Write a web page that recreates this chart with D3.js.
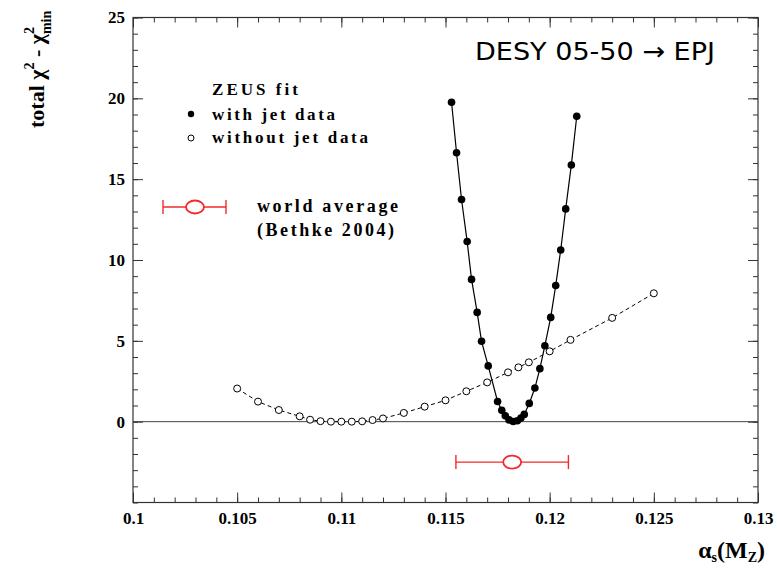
<!DOCTYPE html>
<html>
<head>
<meta charset="utf-8">
<script src="https://cdn.jsdelivr.net/npm/d3@7"></script>
<style>
  html, body { margin: 0; padding: 0; background: #fff; }
  svg { display: block; }
  .tick text { font-family: "Liberation Serif", "Times New Roman", serif; font-weight: bold; font-size: 17px; fill: #000; }
  .tick line { stroke: #333; stroke-width: 1; }
  .serif { font-family: "Liberation Serif", "Times New Roman", serif; font-weight: bold; fill: #000; }
</style>
</head>
<body>
<div id="chart"></div>
<script>
// ZEUS fit: total chi2 - chi2_min versus alpha_s(M_Z)

// with jet data (filled dots, solid line)
const withJetX = [0.11529, 0.11553, 0.11577, 0.11604, 0.11625, 0.11652, 0.11673, 0.11705,
  0.11750, 0.11770, 0.11787, 0.11805, 0.11825, 0.11845, 0.11862, 0.11878, 0.11902,
  0.11929, 0.11953, 0.11977, 0.12005, 0.12029, 0.12053, 0.12077, 0.12104, 0.12130];
const withJetY = [19.76, 16.63, 13.74, 11.14, 8.80, 6.76, 4.97, 3.45,
  1.25, 0.70, 0.36, 0.11, 0.01, 0.06, 0.22, 0.45, 1.13,
  2.08, 3.28, 4.70, 6.45, 8.42, 10.62, 13.16, 15.88, 18.89];

// without jet data (open circles, dashed line)
const noJetX = [0.105, 0.106, 0.107, 0.108, 0.1085, 0.109, 0.1095, 0.110, 0.1105, 0.111,
  0.1115, 0.112, 0.113, 0.114, 0.115, 0.116, 0.117, 0.118, 0.1185, 0.119, 0.120, 0.121, 0.123, 0.125];
const noJetY = [2.05, 1.24, 0.72, 0.33, 0.12, 0.03, 0.0, 0.0, 0.0, 0.02,
  0.10, 0.20, 0.54, 0.93, 1.32, 1.88, 2.43, 3.05, 3.36, 3.67, 4.35, 5.06, 6.42, 7.94];

// world average (Bethke 2004)
const worldAvg = { value: 0.1182, err: 0.0027, y: -2.5 };

// axes
const xTicks = [0.1, 0.105, 0.11, 0.115, 0.12, 0.125, 0.13];
const xTickLabels = ["0.1", "0.105", "0.11", "0.115", "0.12", "0.125", "0.13"];
const xMinor = d3.range(0, 31).map((i) => 0.1 + i * 0.001);
const yTicks = [0, 5, 10, 15, 20, 25];
const yTickLabels = ["0", "5", "10", "15", "20", "25"];
const yMinor = d3.range(-5, 26);

const W = 778, H = 568;
const frame = { left: 133, right: 758, top: 17.5, bottom: 502.5 };
const RED = "#f32a2a";

const svg = d3.select("#chart").append("svg").attr("width", W).attr("height", H);

const x = d3.scaleLinear().domain([0.1, 0.13]).range([frame.left, frame.right]);
const y = d3.scaleLinear().domain([-5, 25]).range([frame.bottom, frame.top]);

// Minor ticks on all four sides (inward)
function minor(axis, pos, vals, size) {
  svg.append("g").attr("transform", pos)
    .call(axis.tickValues(vals).tickSize(size).tickSizeOuter(0).tickFormat(""))
    .call((g) => g.select(".domain").remove());
}
minor(d3.axisBottom(x), `translate(0,${frame.bottom})`, xMinor, -5);
minor(d3.axisTop(x), `translate(0,${frame.top})`, xMinor, -5);
minor(d3.axisLeft(y), `translate(${frame.left},0)`, yMinor, -5);
minor(d3.axisRight(y), `translate(${frame.right},0)`, yMinor, -5);
minor(d3.axisTop(x), `translate(0,${frame.top})`, xTicks, -10);
minor(d3.axisRight(y), `translate(${frame.right},0)`, yTicks, -10);

// Major ticks with labels
svg.append("g").attr("transform", `translate(0,${frame.bottom})`)
  .call(d3.axisBottom(x).tickValues(xTicks).tickSize(-10).tickSizeOuter(0)
    .tickPadding(9).tickFormat((d, i) => xTickLabels[i]))
  .call((g) => g.select(".domain").remove());

svg.append("g").attr("transform", `translate(${frame.left},0)`)
  .call(d3.axisLeft(y).tickValues(yTicks).tickSize(-10).tickSizeOuter(0)
    .tickPadding(8).tickFormat((d, i) => yTickLabels[i]))
  .call((g) => g.select(".domain").remove());

// Frame
svg.append("rect")
  .attr("x", frame.left).attr("y", frame.top)
  .attr("width", frame.right - frame.left).attr("height", frame.bottom - frame.top)
  .attr("fill", "none").attr("stroke", "#333").attr("stroke-width", 1.2);

// Zero line
svg.append("line")
  .attr("x1", frame.left).attr("x2", frame.right)
  .attr("y1", y(0)).attr("y2", y(0))
  .attr("stroke", "#444").attr("stroke-width", 1);

const line = d3.line().x((d) => x(d[0])).y((d) => y(d[1]));
const noJet = noJetX.map((v, i) => [v, noJetY[i]]);
const withJet = withJetX.map((v, i) => [v, withJetY[i]]);

// without jet data
svg.append("path").datum(noJet).attr("d", line)
  .attr("fill", "none").attr("stroke", "#000").attr("stroke-width", 1)
  .attr("stroke-dasharray", "4,3");
svg.append("g").selectAll("circle").data(noJet).join("circle")
  .attr("cx", (d) => x(d[0])).attr("cy", (d) => y(d[1])).attr("r", 3.5)
  .attr("fill", "#fff").attr("stroke", "#000").attr("stroke-width", 1);

// with jet data
svg.append("path").datum(withJet).attr("d", line)
  .attr("fill", "none").attr("stroke", "#000").attr("stroke-width", 1.2);
svg.append("g").selectAll("circle").data(withJet).join("circle")
  .attr("cx", (d) => x(d[0])).attr("cy", (d) => y(d[1])).attr("r", 3.8)
  .attr("fill", "#000");

// World average marker with horizontal error bar
function avgMarker(g, cx, x0, x1, cy) {
  g.append("line").attr("x1", x0).attr("x2", x1).attr("y1", cy).attr("y2", cy)
    .attr("stroke", RED).attr("stroke-width", 1.4);
  [x0, x1].forEach((xx) => g.append("line").attr("x1", xx).attr("x2", xx)
    .attr("y1", cy - 7).attr("y2", cy + 7).attr("stroke", RED).attr("stroke-width", 1.4));
  g.append("ellipse").attr("cx", cx).attr("cy", cy).attr("rx", 9).attr("ry", 6.5)
    .attr("fill", "#fff").attr("stroke", RED).attr("stroke-width", 1.8);
}
avgMarker(svg.append("g"), x(worldAvg.value), x(worldAvg.value - worldAvg.err),
  x(worldAvg.value + worldAvg.err), y(worldAvg.y));

// Legend
const leg = svg.append("g");
leg.append("text").attr("class", "serif").attr("x", 212).attr("y", 95)
  .attr("font-size", 17).attr("textLength", 86).attr("lengthAdjust", "spacing").text("ZEUS fit");
leg.append("circle").attr("cx", 191).attr("cy", 114).attr("r", 3.2).attr("fill", "#000");
leg.append("text").attr("class", "serif").attr("x", 212).attr("y", 120)
  .attr("font-size", 17).attr("textLength", 123).attr("lengthAdjust", "spacing").text("with jet data");
leg.append("circle").attr("cx", 191).attr("cy", 138).attr("r", 3).attr("fill", "#fff")
  .attr("stroke", "#000").attr("stroke-width", 1);
leg.append("text").attr("class", "serif").attr("x", 212).attr("y", 143)
  .attr("font-size", 17).attr("textLength", 156).attr("lengthAdjust", "spacing").text("without jet data");
avgMarker(leg, 195, 163, 226, 207);
leg.append("text").attr("class", "serif").attr("x", 257).attr("y", 212)
  .attr("font-size", 18).attr("textLength", 141).attr("lengthAdjust", "spacing").text("world average");
leg.append("text").attr("class", "serif").attr("x", 257).attr("y", 236)
  .attr("font-size", 18).attr("textLength", 137).attr("lengthAdjust", "spacing").text("(Bethke 2004)");

// Title
svg.append("text").attr("x", 475).attr("y", 60)
  .attr("font-family", "'Comic Sans MS', 'DejaVu Sans', sans-serif").attr("font-size", 25)
  .attr("textLength", 240).attr("lengthAdjust", "spacingAndGlyphs")
  .attr("fill", "#000").text("DESY 05-50 \u2192 EPJ");

// Y axis label
const yl = svg.append("text").attr("class", "serif").attr("font-size", 22)
  .attr("transform", "translate(44,128) rotate(-90)").attr("text-anchor", "start");
yl.append("tspan").text("total \u03c7");
yl.append("tspan").attr("font-size", 14).attr("dy", -10).text("2");
yl.append("tspan").attr("dy", 10).text(" - \u03c7");
yl.append("tspan").attr("font-size", 14).attr("dy", -10).text("2");
yl.append("tspan").attr("font-size", 14).attr("dx", -7).attr("dy", 17).text("min");

// X axis label
const xl = svg.append("text").attr("class", "serif").attr("font-size", 24)
  .attr("x", 765).attr("y", 558).attr("text-anchor", "end");
xl.append("tspan").text("\u03b1");
xl.append("tspan").attr("font-size", 14).attr("dy", 4).text("s");
xl.append("tspan").attr("dy", -4).text("(M");
xl.append("tspan").attr("font-size", 14).attr("dy", 4).text("Z");
xl.append("tspan").attr("dy", -4).text(")");
</script>
</body>
</html>
